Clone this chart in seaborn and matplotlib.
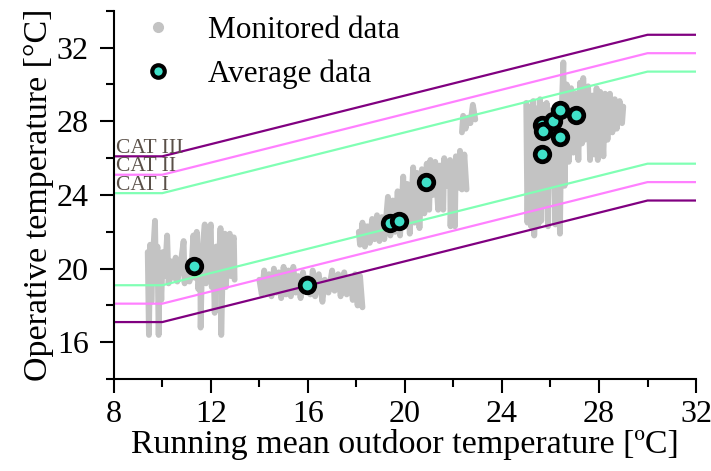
import numpy as np
import pandas as pd
import matplotlib
matplotlib.use("Agg")
import matplotlib.pyplot as plt
from matplotlib.lines import Line2D
from matplotlib.ticker import MultipleLocator
import seaborn as sns

# --------------------------------------------------------------
# Data
# --------------------------------------------------------------

# comfort category limits (running mean outdoor temperature -> operative temperature)
band_x = [8, 10, 30, 32]
cat1_upper = [24.1, 24.1, 30.7, 30.7]
cat1_lower = [19.1, 19.1, 25.7, 25.7]
cat2_upper = [25.1, 25.1, 31.7, 31.7]
cat2_lower = [18.1, 18.1, 24.7, 24.7]
cat3_upper = [26.1, 26.1, 32.7, 32.7]
cat3_lower = [17.1, 17.1, 23.7, 23.7]

# monitored data, traced as polylines per measurement period
p1_x = [9.40, 9.45, 9.50, 9.55, 9.62, 9.70, 9.74, 9.80, 9.85, 9.90, 9.96, 10.02, 10.10,
        10.20, 10.26, 10.35, 10.45, 10.55, 10.62, 10.75, 10.88, 10.92, 11.02, 11.12, 11.20,
        11.28, 11.35, 11.42, 11.48, 11.57, 11.58, 11.65, 11.75, 11.80, 11.90, 12.00, 12.04,
        12.10, 12.16, 12.22, 12.30, 12.40, 12.43, 12.50, 12.58, 12.62, 12.70, 12.78, 12.82,
        12.90, 12.95, 12.98]
p1_y = [20.9, 16.4, 21.3, 18.2, 20.8, 22.6, 19.3, 21.2, 16.4, 20.6, 18.3, 20.9, 19.6,
        21.8, 19.2, 20.4, 19.5, 20.6, 19.3, 20.2, 21.5, 19.2, 20.3, 19.3, 20.0,
        21.8, 19.5, 22.0, 18.9, 19.8, 16.8, 21.0, 22.4, 19.2, 21.6, 22.4, 19.0,
        20.9, 17.6, 21.2, 19.6, 22.2, 16.4, 20.5, 21.9, 19.0, 21.3, 21.9, 19.6,
        21.5, 21.7, 19.4]

p2_x = [14.00, 14.10, 14.20, 14.30, 14.40, 14.50, 14.60, 14.70, 14.80, 14.90, 15.00, 15.10,
        15.20, 15.30, 15.40, 15.50, 15.60, 15.70, 15.80, 15.90, 16.00, 16.10, 16.20, 16.30,
        16.45, 16.60, 16.70, 16.85, 17.00, 17.10, 17.25, 17.35, 17.50, 17.60, 17.75, 17.85,
        17.95, 18.05, 18.15, 18.25]
p2_y = [19.4, 18.6, 19.9, 18.7, 19.7, 18.5, 20.0, 18.7, 19.8, 18.4, 20.1, 18.6,
        19.9, 18.5, 20.1, 18.7, 19.6, 18.4, 19.8, 18.8, 19.5, 18.6, 19.9, 18.5,
        19.7, 18.2, 19.4, 18.7, 19.9, 18.8, 19.7, 18.5, 19.8, 18.6, 19.5, 18.3,
        19.7, 18.0, 19.6, 17.9]

p3_x = [18.10, 18.15, 18.25, 18.35, 18.45, 18.55, 18.65, 18.75, 18.85, 18.95, 19.05, 19.15,
        19.30, 19.40, 19.50, 19.60, 19.70, 19.80, 19.93, 20.00, 20.10, 20.20, 20.34, 20.40,
        20.50, 20.60, 20.70, 20.80, 20.90, 21.00, 21.05, 21.15, 21.25, 21.37, 21.45, 21.58,
        21.62, 21.75, 21.86, 21.88, 21.95, 22.06, 22.10, 22.20, 22.27, 22.35, 22.45, 22.54]
p3_y = [22.0, 21.3, 22.5, 21.2, 22.3, 21.4, 22.7, 21.6, 22.9, 21.5, 22.8, 21.6,
        23.9, 21.8, 23.7, 22.0, 24.2, 21.8, 25.0, 22.3, 24.6, 21.9, 25.5, 22.5,
        25.2, 22.2, 25.4, 23.0, 25.7, 23.2, 25.9, 24.0, 25.8, 23.2, 25.6, 23.2,
        26.0, 24.5, 25.9, 22.3, 25.7, 22.3, 26.1, 24.4, 26.4, 24.3, 26.2, 24.3]

p4_x = [22.35, 22.40, 22.50, 22.60, 22.70, 22.80, 22.90]
p4_y = [27.4, 28.3, 27.6, 28.2, 27.9, 28.9, 28.1]

p5_x = [25.00, 25.05, 25.12, 25.20, 25.29, 25.33, 25.42, 25.50, 25.57, 25.62, 25.72, 25.78,
        25.84, 25.90, 25.98, 26.05, 26.12, 26.20, 26.30, 26.39, 26.45, 26.53, 26.58, 26.67,
        26.75, 26.85, 26.94, 27.05, 27.15, 27.22, 27.30, 27.35, 27.42, 27.55, 27.63, 27.72,
        27.80, 27.90, 27.95, 28.05, 28.18, 28.25, 28.35, 28.45, 28.55, 28.65, 28.73, 28.85,
        28.95, 29.00]
p5_y = [29.0, 22.5, 28.8, 22.3, 29.1, 21.8, 28.7, 22.4, 29.2, 22.6, 28.9, 23.5,
        29.0, 22.3, 28.6, 24.6, 28.5, 22.4, 27.8, 21.9, 28.2, 31.2, 24.5, 30.0,
        25.8, 29.8, 26.3, 29.5, 25.9, 30.1, 26.8, 30.35, 27.0, 29.9, 25.9, 29.4,
        26.2, 29.8, 25.9, 29.6, 26.1, 29.5, 27.0, 29.5, 27.4, 29.2, 27.6, 29.1,
        27.9, 28.8]

# average data
avg_x = [11.30, 15.95, 19.38, 19.76, 20.85, 25.66, 25.66, 25.68, 26.10, 26.39, 26.39, 27.05]
avg_y = [20.15, 19.10, 22.47, 22.58, 24.70, 26.25, 27.82, 27.45, 28.03, 28.63, 27.13, 28.32]

# --------------------------------------------------------------
# Plot
# --------------------------------------------------------------
sns.set_theme(style="ticks")
plt.rcParams["font.family"] = ["Liberation Serif", "DejaVu Serif"]

fig = plt.figure(figsize=(7.11, 4.71), dpi=100)
ax = fig.add_axes([0.160, 0.195, 0.819, 0.782])

gray = "#c3c3c3"
periods = [(p1_x, p1_y), (p2_x, p2_y), (p3_x, p3_y), (p4_x, p4_y), (p5_x, p5_y)]
for px, py in periods:
    sns.lineplot(x=px, y=py, sort=False, estimator=None, color=gray, lw=4.2,
                 solid_capstyle="round", solid_joinstyle="round", ax=ax)

limits = [
    (cat3_upper, "#800080"), (cat3_lower, "#800080"),
    (cat2_upper, "#ff80ff"), (cat2_lower, "#ff80ff"),
    (cat1_upper, "#80ffb4"), (cat1_lower, "#80ffb4"),
]
for vals, col in limits:
    sns.lineplot(x=band_x, y=vals, color=col, lw=1.6, estimator=None, ax=ax)

sns.scatterplot(x=avg_x, y=avg_y, s=110, color="#40e0c8", edgecolor="black",
                linewidth=3.4, zorder=5, ax=ax)

# category labels
for label, yv in [("CAT III", cat3_upper[0]), ("CAT II", cat2_upper[0]), ("CAT I", cat1_upper[0])]:
    ax.text(8.08, yv - 0.08, label, fontsize=15.5, color="#5a5048", va="bottom", ha="left")

ax.set_xlim(8, 32)
ax.set_ylim(14, 34)
ax.xaxis.set_major_locator(MultipleLocator(4))
ax.xaxis.set_minor_locator(MultipleLocator(2))
ax.yaxis.set_major_locator(MultipleLocator(4))
ax.yaxis.set_minor_locator(MultipleLocator(2))
ax.set_yticks([16, 20, 24, 28, 32])
ax.tick_params(which="major", length=10, width=1.5, direction="out", labelsize=23,
               color="black", labelcolor="black", pad=5)
ax.tick_params(axis="y", which="major", pad=8)
ax.tick_params(which="minor", length=5.5, width=1.5, direction="out", color="black")
for side in ["left", "bottom"]:
    ax.spines[side].set_linewidth(1.5)
    ax.spines[side].set_color("black")
sns.despine(ax=ax)

ax.set_xlabel("Running mean outdoor temperature [ºC]", fontsize=24.5, labelpad=0, color="black")
ax.set_ylabel("Operative temperature [°C]", fontsize=24.5, labelpad=2, color="black")

handles = [
    Line2D([], [], ls="none", marker="o", ms=7, color=gray, mec=gray),
    Line2D([], [], ls="none", marker="o", ms=9, mfc="#40e0c8", mec="black", mew=3),
]
leg = ax.legend(handles, ["Monitored data", "Average data"], frameon=False, fontsize=22.5,
                loc="upper left", bbox_to_anchor=(0.0, 1.02), handletextpad=0.6,
                labelspacing=0.45, borderaxespad=0)
for t in leg.get_texts():
    t.set_color("black")

fig.savefig("out.png", dpi=100)
